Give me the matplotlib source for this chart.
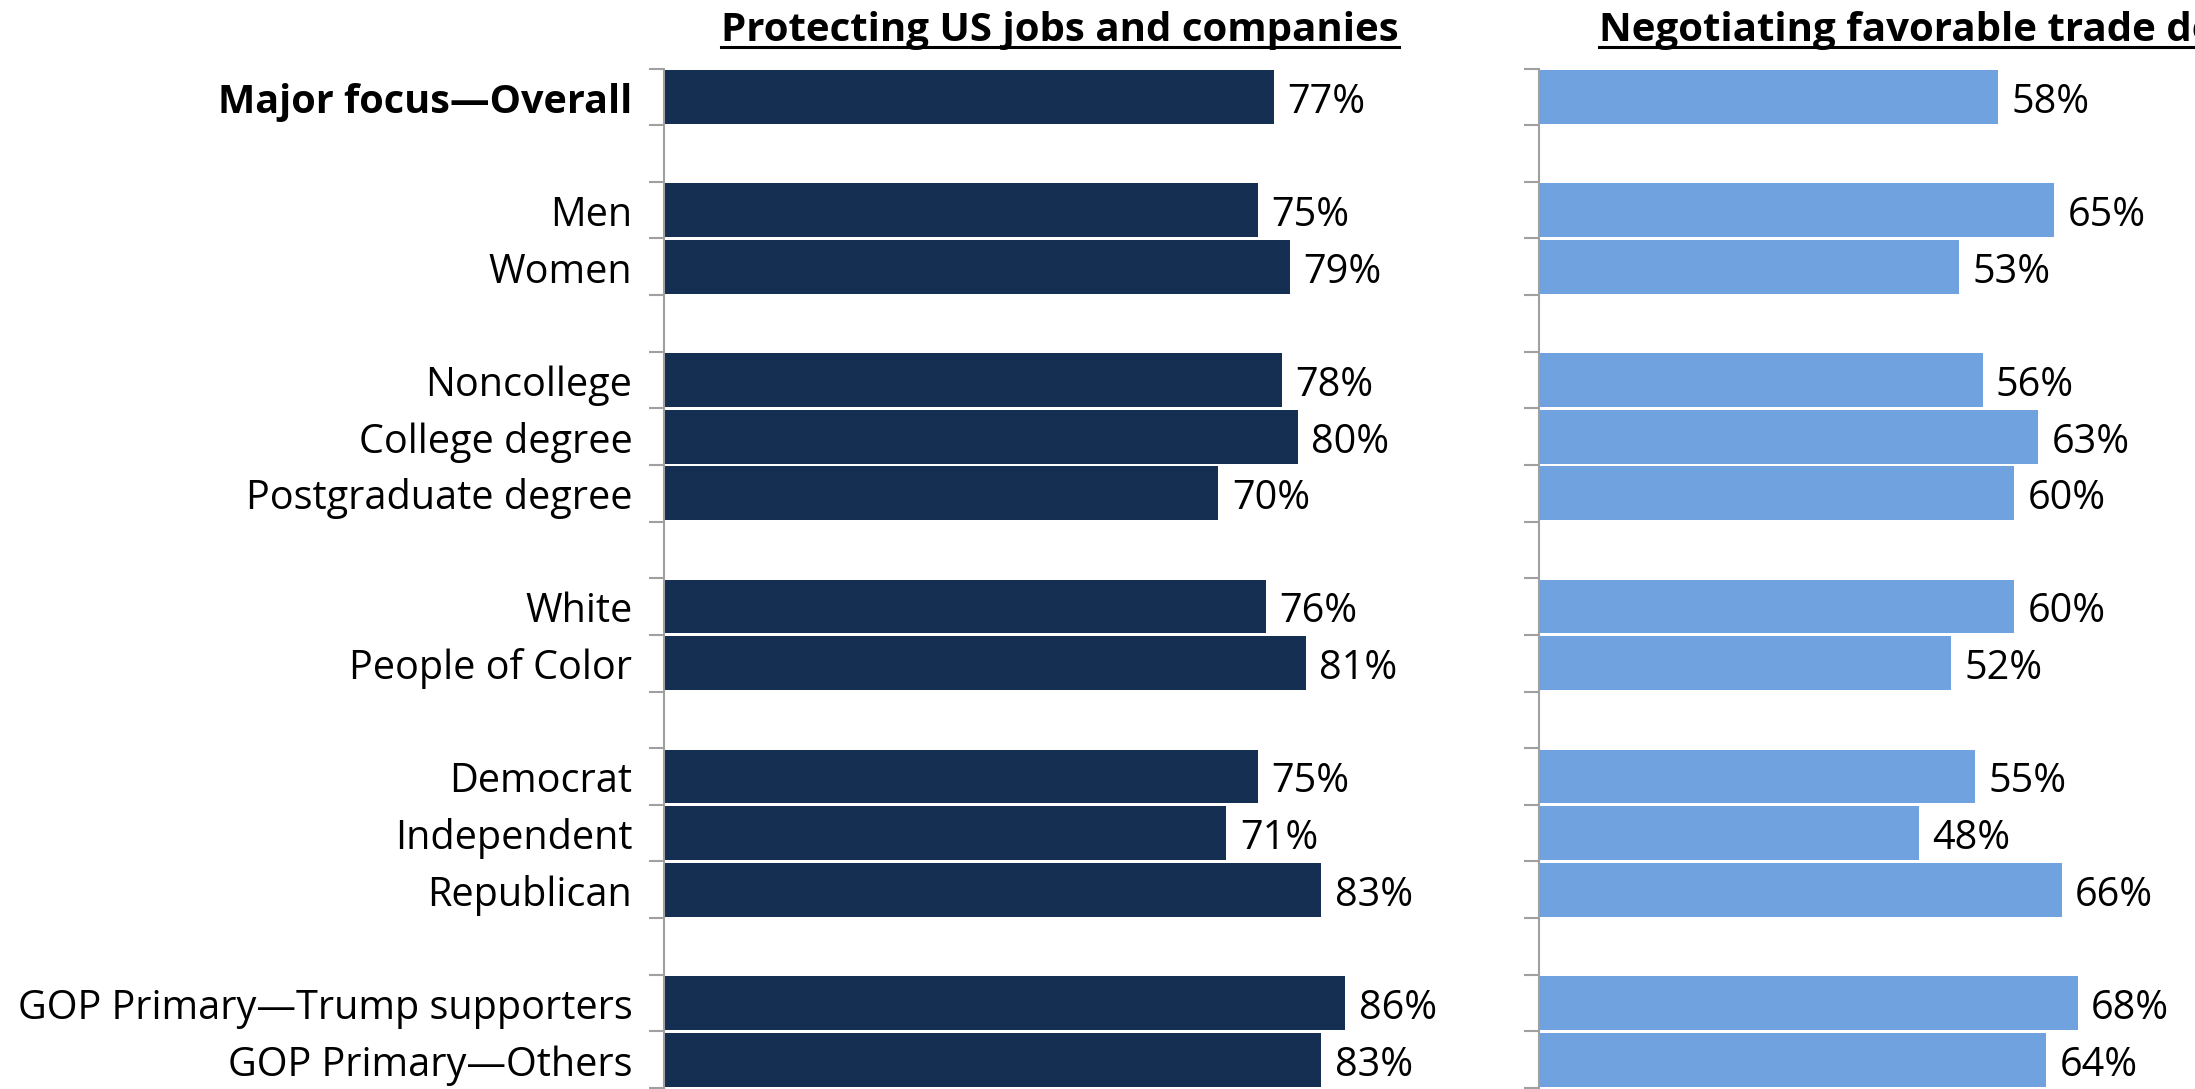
import numpy as np
import matplotlib.pyplot as plt
from matplotlib.lines import Line2D

# rows top to bottom, empty string = spacer row
categories = ["Major focus\u2014Overall", "",
              "Men", "Women", "",
              "Noncollege", "College degree", "Postgraduate degree", "",
              "White", "People of Color", "",
              "Democrat", "Independent", "Republican", "",
              "GOP Primary\u2014Trump supporters", "GOP Primary\u2014Others"]

protecting = [77, None, 75, 79, None, 78, 80, 70, None, 76, 81, None, 75, 71, 83, None, 86, 83]
negotiating = [58, None, 65, 53, None, 56, 63, 60, None, 60, 52, None, 55, 48, 66, None, 68, 64]

titles = ["Protecting US jobs and companies", "Negotiating favorable trade deals"]
colors = ["#152F52", "#6FA2DE"]

plt.rcParams['font.family'] = ['Open Sans', 'DejaVu Sans']

fig = plt.figure(figsize=(21.95, 10.89), dpi=100)
W, H = 2195, 1089

ax_top = 68.5
ax_bot = 1088
ax_w = 792
lefts = [664, 1539]
dy = 0.1  # nudge text down a little, the source font sits lower

axes = []
title_texts = []
for i, (vals, title, col) in enumerate(zip([protecting, negotiating], titles, colors)):
    ax = fig.add_axes([lefts[i] / W, 1 - ax_bot / H, ax_w / W, (ax_bot - ax_top) / H])
    axes.append(ax)
    y = np.arange(len(categories))
    for yi, v in zip(y, vals):
        if v is None:
            continue
        ax.barh(yi, v, height=0.95, color=col)
        ax.text(v + 1.7, yi + dy, f"{v}%", va="center", ha="left", fontsize=28.5)
    ax.set_xlim(0, 100)
    ax.set_ylim(len(categories) - 0.5, -0.5)
    ax.set_xticks([])
    ax.set_yticks(np.arange(len(categories) + 1) - 0.5)
    ax.set_yticklabels([])
    ax.tick_params(axis="y", length=11, width=1.5, color="#A0A0A0", direction="out")
    for s in ["top", "right", "bottom"]:
        ax.spines[s].set_visible(False)
    ax.spines["left"].set_color("#A0A0A0")
    ax.spines["left"].set_linewidth(1.5)
    t = ax.text(0.5, 1 + 27 / (ax_bot - ax_top), title, transform=ax.transAxes,
                ha="center", va="baseline", fontsize=29, fontweight="bold", clip_on=False)
    title_texts.append(t)

# category labels on the left panel
for yi, lab in enumerate(categories):
    if not lab:
        continue
    axes[0].text(-4, yi + dy, lab, ha="right", va="center", fontsize=28.5,
                 fontweight="bold" if yi == 0 else "normal")

# underline the titles
fig.canvas.draw()
r = fig.canvas.get_renderer()
for t in title_texts:
    bb = t.get_window_extent(r)
    yl = (bb.y0 + 4) / H
    fig.add_artist(Line2D([bb.x0 / W, bb.x1 / W], [yl, yl], transform=fig.transFigure,
                          color="black", linewidth=2.2))

fig.savefig("out.png", dpi=100)
